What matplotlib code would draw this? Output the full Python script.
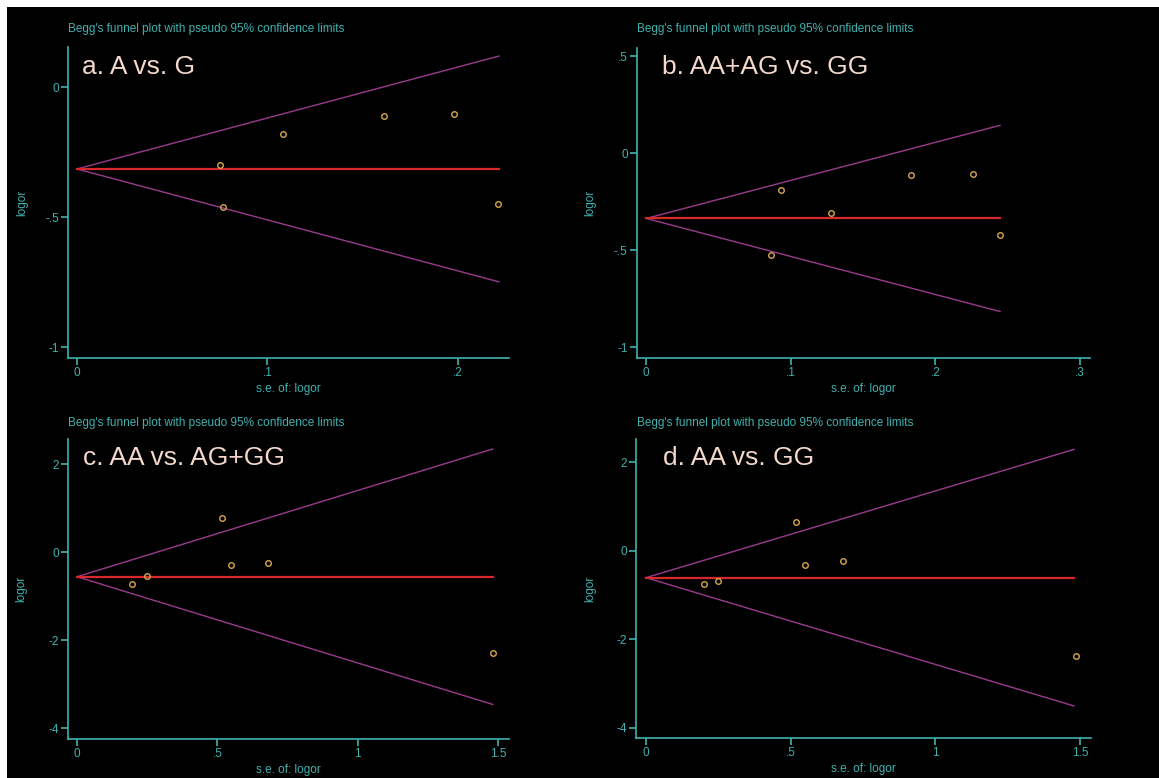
import matplotlib
matplotlib.use("Agg")
import matplotlib.pyplot as plt
from matplotlib.patches import Rectangle
import numpy as np

W, H = 1159, 778

# ---------------- data ----------------
panel_labels = ["a. A vs. G", "b. AA+AG vs. GG", "c. AA vs. AG+GG", "d. AA vs. GG"]
title_text = "Begg's funnel plot with pseudo 95% confidence limits"
xlabel_text = "s.e. of: logor"
ylabel_text = "logor"

se_a = [0.0751, 0.0768, 0.108, 0.161, 0.198, 0.221]
logor_a = [-0.300, -0.460, -0.180, -0.112, -0.103, -0.450]
pooled_a = -0.315
semax_a = 0.2215

se_b = [0.0863, 0.0930, 0.1278, 0.1834, 0.226, 0.2446]
logor_b = [-0.527, -0.192, -0.308, -0.113, -0.107, -0.424]
pooled_b = -0.337
semax_b = 0.2448

se_c = [0.197, 0.2505, 0.5166, 0.5476, 0.6795, 1.482]
logor_c = [-0.727, -0.532, 0.773, -0.289, -0.236, -2.28]
pooled_c = -0.555
semax_c = 1.481

se_d = [0.1994, 0.250, 0.5196, 0.5507, 0.682, 1.485]
logor_d = [-0.753, -0.671, 0.662, -0.309, -0.233, -2.38]
pooled_d = -0.603
semax_d = 1.479

xticks_a = [0, 0.1, 0.2]; xticklabels_a = ["0", ".1", ".2"]
yticks_a = [0, -0.5, -1]; yticklabels_a = ["0", "-.5", "-1"]
xticks_b = [0, 0.1, 0.2, 0.3]; xticklabels_b = ["0", ".1", ".2", ".3"]
yticks_b = [0.5, 0, -0.5, -1]; yticklabels_b = [".5", "0", "-.5", "-1"]
xticks_cd = [0, 0.5, 1, 1.5]; xticklabels_cd = ["0", ".5", "1", "1.5"]
yticks_cd = [2, 0, -2, -4]; yticklabels_cd = ["2", "0", "-2", "-4"]

# ---------------- style ----------------
TEAL = "#3fb2b0"
PEACH = "#f3d8cb"
FUNNEL = "#9a3c8e"
RED = "#d8282c"
ORANGE = "#d9a64c"
FONT = "Liberation Sans"

fig = plt.figure(figsize=(W / 100, H / 100), dpi=100)
fig.patch.set_facecolor("white")
fig.patches.append(Rectangle((7 / W, 0), 1 - 7 / W, 1 - 7 / H, transform=fig.transFigure,
                             facecolor="black", edgecolor="none", zorder=-10))

panels = [
    dict(se=se_a, y=logor_a, pooled=pooled_a, semax=semax_a,
         box=(68, 509, 47, 358), xlim=(-0.0047, 0.2268), ylim=(-1.042, 0.154),
         xt=xticks_a, xtl=xticklabels_a, yt=yticks_a, ytl=yticklabels_a,
         title=(68, 29), lab=(82, 67)),
    dict(se=se_b, y=logor_b, pooled=pooled_b, semax=semax_b,
         box=(636.7, 1090, 47.7, 358.3), xlim=(-0.0066, 0.307), ylim=(-1.058, 0.543),
         xt=xticks_b, xtl=xticklabels_b, yt=yticks_b, ytl=yticklabels_b,
         title=(637, 29), lab=(662, 67)),
    dict(se=se_c, y=logor_c, pooled=pooled_c, semax=semax_c,
         box=(67.7, 509.3, 439.3, 739), xlim=(-0.033, 1.540), ylim=(-4.243, 2.568),
         xt=xticks_cd, xtl=xticklabels_cd, yt=yticks_cd, ytl=yticklabels_cd,
         title=(68, 423), lab=(83, 458)),
    dict(se=se_d, y=logor_d, pooled=pooled_d, semax=semax_d,
         box=(636, 1090.7, 439.3, 738.3), xlim=(-0.0346, 1.537), ylim=(-4.233, 2.524),
         xt=xticks_cd, xtl=xticklabels_cd, yt=yticks_cd, ytl=yticklabels_cd,
         title=(637, 423), lab=(663, 458)),
]

for p, lab in zip(panels, panel_labels):
    l, r, t, b = p["box"]
    ax = fig.add_axes([l / W, 1 - b / H, (r - l) / W, (b - t) / H])
    ax.set_facecolor("none")
    ax.patch.set_alpha(0)
    for s in ("top", "right"):
        ax.spines[s].set_visible(False)
    for s in ("left", "bottom"):
        ax.spines[s].set_color(TEAL)
        ax.spines[s].set_linewidth(1.2)
    ax.set_xlim(*p["xlim"])
    ax.set_ylim(*p["ylim"])

    xs = np.array([0.0, p["semax"]])
    ax.plot(xs, p["pooled"] + 1.96 * xs, color=FUNNEL, lw=1.0, zorder=2)
    ax.plot(xs, p["pooled"] - 1.96 * xs, color=FUNNEL, lw=1.0, zorder=2)
    ax.plot(xs, [p["pooled"], p["pooled"]], color=RED, lw=1.6, zorder=3)
    ax.plot(p["se"], p["y"], linestyle="none", marker="o", ms=4, mfc="none",
            mec=ORANGE, mew=1.0, zorder=4)

    ax.set_xticks(p["xt"])
    ax.set_xticklabels(p["xtl"])
    ax.set_yticks(p["yt"])
    ax.set_yticklabels(p["ytl"])
    ax.tick_params(colors=TEAL, labelcolor=TEAL, length=5, width=1.2, pad=1.5,
                   labelsize=8.5)
    for tl in ax.get_xticklabels() + ax.get_yticklabels():
        tl.set_fontfamily(FONT)

    hpx = b - t
    wpx = r - l
    ax.set_xlabel(xlabel_text, color=TEAL, fontsize=8.5, fontfamily=FONT)
    ax.xaxis.set_label_coords(0.5, -25 / hpx)
    ax.set_ylabel(ylabel_text, color=TEAL, fontsize=8.5, fontfamily=FONT)
    ax.yaxis.set_label_coords(-40 / wpx, 0.5)

    tx, ty = p["title"]
    fig.text(tx / W, 1 - ty / H, title_text, color=TEAL, fontsize=8.5,
             fontfamily=FONT, ha="left", va="center")
    lx, ly = p["lab"]
    fig.text(lx / W, 1 - ly / H, lab, color=PEACH, fontsize=19,
             fontfamily=FONT, ha="left", va="center")

fig.savefig("out.png", dpi=100, facecolor=fig.get_facecolor())
